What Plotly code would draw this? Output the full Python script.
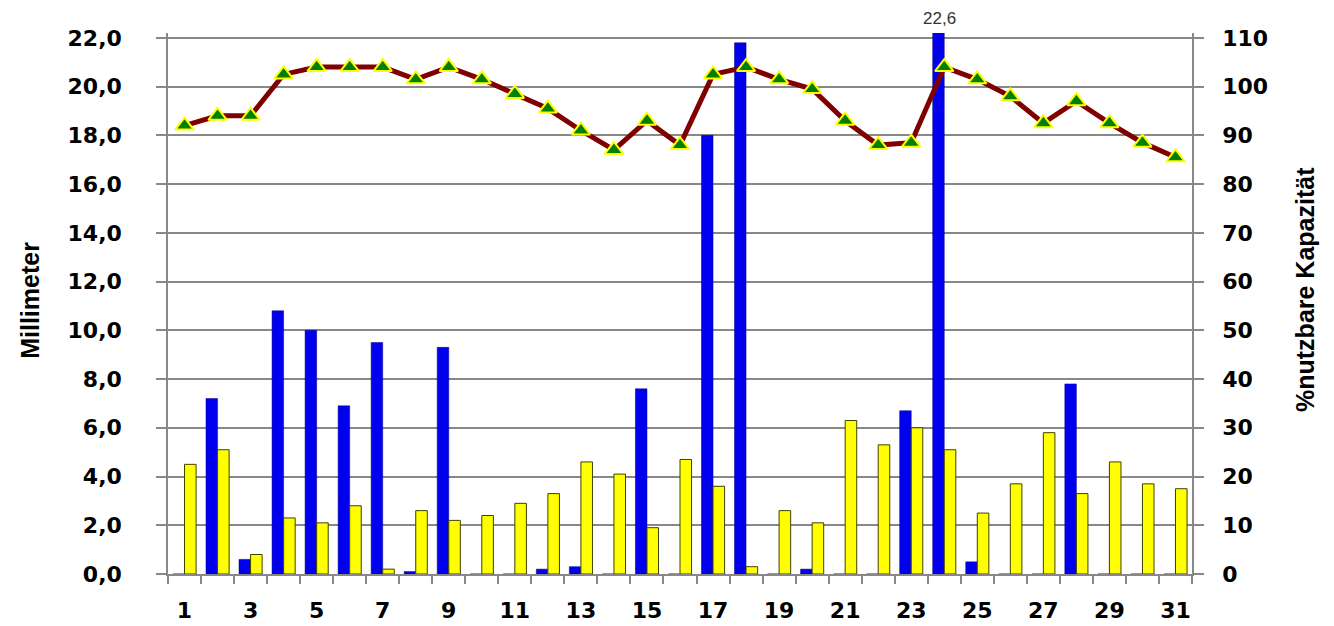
import plotly.graph_objects as go

days = list(range(1, 32))
niederschlag = [0, 7.2, 0.6, 10.8, 10.0, 6.9, 9.5, 0.1, 9.3, 0, 0, 0.2, 0.3, 0, 7.6, 0,
                18.0, 21.8, 0, 0.2, 0, 0, 6.7, 22.6, 0.5, 0, 0, 7.8, 0, 0, 0]
verdunstung = [4.5, 5.1, 0.8, 2.3, 2.1, 2.8, 0.2, 2.6, 2.2, 2.4, 2.9, 3.3, 4.6, 4.1, 1.9, 4.7,
               3.6, 0.3, 2.6, 2.1, 6.3, 5.3, 6.0, 5.1, 2.5, 3.7, 5.8, 3.3, 4.6, 3.7, 3.5]
kapazitaet = [92, 94, 94, 102.5, 104, 104, 104, 101.5, 104, 101.5, 98.5, 95.5, 91, 87, 93, 88,
              102.5, 104, 101.5, 99.5, 93, 88, 88.5, 104, 101.5, 98, 92.5, 97, 92.5, 88.5, 85.5]
x_ticks = list(range(1, 32, 2))
left_ticks = list(range(0, 23, 2))
left_labels = [f"{v},0" for v in left_ticks]
right_ticks = list(range(0, 111, 10))

GRID = "#888888"
tickfont = dict(family="DejaVu Sans", size=22, color="black", weight="bold")
titlefont = dict(family="Liberation Sans Narrow, Liberation Sans", size=25,
                 color="black", weight="bold")

fig = go.Figure()
fig.add_trace(go.Bar(x=days, y=niederschlag, name="Niederschlag",
                     marker=dict(color="#0000EE", line=dict(color="#000080", width=0.5)),
                     showlegend=False))
fig.add_trace(go.Bar(x=days, y=verdunstung, name="Verdunstung",
                     marker=dict(color="#FFFF00", line=dict(color="#404000", width=1)),
                     showlegend=False))
fig.add_trace(go.Scatter(x=days, y=kapazitaet, yaxis="y2", mode="lines+markers",
                         name="% nutzbare Kapazität",
                         line=dict(color="#800000", width=5),
                         marker=dict(symbol="triangle-up", size=16, color="#008000",
                                     line=dict(color="#FFFF00", width=2)),
                         showlegend=False))

fig.update_layout(
    width=1326, height=618,
    margin=dict(l=160, r=142, t=25, b=52, autoexpand=False),
    paper_bgcolor="white", plot_bgcolor="white",
    barmode="group", bargap=0.3, bargroupgap=0,
    xaxis=dict(range=[0.5, 31.5], tickmode="array", tickvals=x_ticks, automargin=False,
               ticktext=[str(v) for v in x_ticks], ticks="", showgrid=False,
               showline=True, linecolor=GRID, linewidth=1.5, tickfont=tickfont,
               ticklabelstandoff=16,
               minor=dict(tickmode="array", tickvals=[d + 0.5 for d in range(0, 32)],
                          ticks="outside", ticklen=8, tickcolor=GRID, tickwidth=1.5,
                          showgrid=False)),
    yaxis=dict(range=[0, 22.2], tickmode="array", tickvals=left_ticks, ticktext=left_labels,
               automargin=False,
               showgrid=True, gridcolor=GRID, gridwidth=1.5, zeroline=False,
               showline=True, linecolor=GRID, linewidth=1.5,
               ticks="outside", ticklen=10, tickcolor=GRID, tickwidth=1.5,
               tickfont=tickfont, ticklabelstandoff=30),
    yaxis2=dict(range=[0, 111], overlaying="y", side="right", tickmode="array",
                automargin=False,
                tickvals=right_ticks, showgrid=False, zeroline=False,
                showline=True, linecolor=GRID, linewidth=1.5,
                ticks="outside", ticklen=10, tickcolor=GRID, tickwidth=1.5,
                tickfont=tickfont, ticklabelstandoff=14),
    annotations=[
        dict(text="Millimeter", textangle=-90, xref="paper", yref="paper",
             x=(30 - 168) / 1024, y=0.505, xanchor="center", yanchor="middle",
             showarrow=False, font=titlefont),
        dict(text="%nutzbare Kapazität", textangle=-90, xref="paper", yref="paper",
             x=(1305 - 168) / 1024, y=0.525, xanchor="center", yanchor="middle",
             showarrow=False, font=titlefont),
        dict(text="22,6", xref="x", yref="paper", x=24, xshift=-5, y=1, yanchor="middle",
             yshift=15, showarrow=False,
             font=dict(family="Liberation Sans, Arial", size=17, color="#333333")),
    ],
)

fig.write_html("out.html")
